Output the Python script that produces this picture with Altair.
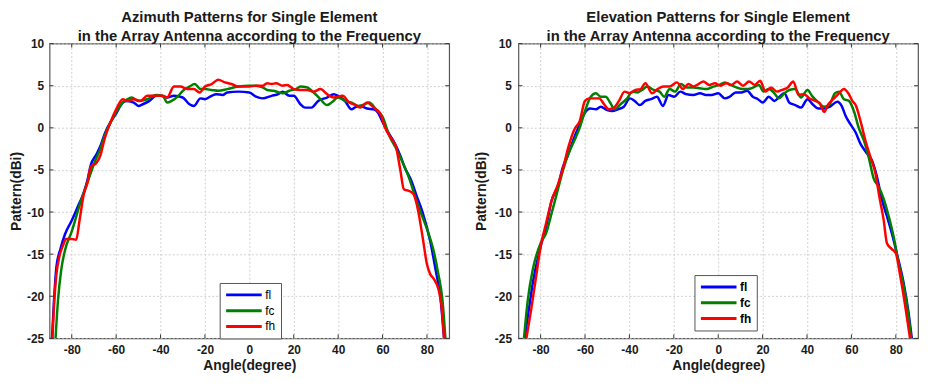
import altair as alt
import pandas as pd

FONT = "Liberation Sans"
SERIES = ["fl", "fc", "fh"]
COLORS = ["#0000ff", "#008000", "#ff0000"]
X_TICKS = [-80, -60, -40, -20, 0, 20, 40, 60, 80]
Y_TICKS = [-25, -20, -15, -10, -5, 0, 5, 10]

# ---------------- Azimuth ----------------
az_fl_angle = [-88.9, -88, -86.9, -85, -83, -80, -77, -75, -73, -71.4, -69, -67, -65, -62, -60, -57, -55, -52, -50, -48,
               -45, -42, -40, -37, -34, -30, -27, -25, -22, -20, -17, -15, -12, -10, -5, 0, 3, 6, 10, 13, 15, 18, 20,
               23, 25, 28, 31, 35, 38, 40, 43, 46, 48, 50, 53, 56, 58, 60, 62, 65, 68, 70, 73, 75.5, 78, 81.5, 84, 86,
               87.7]
az_fl_value = [-25, -20.5, -16.5, -14.3, -12.6, -11.0, -9.2, -8.0, -6.3, -4.4, -3.2, -2.1, -0.6, 0.9, 1.7, 3.0, 3.2,
               3.0, 2.6, 2.8, 3.2, 3.8, 3.8, 3.6, 3.8, 3.6, 2.8, 2.6, 3.5, 3.4, 3.8, 4.0, 3.9, 4.2, 4.3, 4.2, 3.7, 3.5,
               3.8, 4.0, 4.3, 3.8, 3.8, 2.8, 2.4, 2.4, 3.2, 3.6, 4.0, 3.8, 3.2, 2.2, 2.5, 2.6, 2.3, 2.2, 1.8, 0.7, -0.3,
               -1.6, -3.3, -4.7, -6.3, -8.2, -10.0, -13.5, -17.0, -20.0, -25]

az_fc_angle = [-87.3, -86.2, -84.7, -83, -80, -76, -72, -70, -67, -65, -62, -60, -57, -55, -53, -50, -46, -42, -39,
               -37, -35, -32, -30, -27, -24.6, -22, -20, -17, -14, -10, -5, 0, 3, 6, 8, 11, 15, 18, 21, 23, 26, 29, 32,
               35, 37, 40, 43, 46, 49, 52, 54, 57, 60, 63, 66, 69, 72, 75, 78, 80, 83, 85, 87, 88.3]
az_fc_value = [-25, -20.5, -16.8, -14.5, -12.3, -8.8, -5.8, -4.3, -2.4, -0.8, 0.9, 1.9, 3.0, 3.4, 3.6, 3.2, 3.4, 3.9,
               3.8, 3.0, 3.2, 3.8, 4.4, 4.9, 5.2, 4.6, 4.6, 4.5, 4.4, 4.6, 4.9, 5.0, 5.0, 4.8, 4.5, 4.4, 4.1, 4.4, 4.6,
               4.9, 4.8, 4.2, 3.4, 2.7, 3.0, 3.6, 3.2, 3.0, 2.6, 2.8, 3.0, 2.2, 1.3, -0.9, -2.4, -4.1, -6.0, -8.4,
               -10.6, -12.0, -14.6, -17.2, -20.5, -25]

az_fh_angle = [-88.7, -87.7, -87, -85.5, -84, -82.5, -80, -78, -76.5, -74.5, -73, -71.4, -69, -67, -65.5, -62.5, -60,
               -57, -55, -52, -49, -46, -42, -39, -37, -34, -31, -28, -25, -22.4, -20, -17, -14, -11, -8, -5, 0, 3, 6,
               8, 10, 12, 15, 17, 20, 23, 26, 29, 32, 35, 38, 42, 45, 48, 50, 53, 56, 59, 61, 64, 66, 68, 69.6, 72, 74,
               76, 78, 80, 81.5, 83, 85.2, 86.5, 87.7]
az_fh_value = [-25, -19.9, -17.6, -15.2, -14.0, -13.2, -13.2, -13.3, -11.0, -7.8, -6.6, -4.6, -4.2, -3.2, -1.6, 0.7,
               2.2, 3.4, 3.2, 3.4, 3.2, 3.8, 3.8, 3.8, 3.6, 4.9, 4.9, 4.6, 4.6, 4.2, 4.9, 5.2, 5.7, 5.4, 5.2, 4.9, 4.9,
               5.0, 5.0, 5.3, 5.2, 5.3, 5.0, 5.1, 4.6, 4.5, 4.5, 4.3, 4.6, 4.0, 3.6, 3.8, 3.0, 2.7, 2.4, 3.0, 2.4, 1.7,
               0.1, -1.3, -2.2, -5.0, -7.3, -7.5, -7.9, -9.8, -12.9, -16.2, -17.4, -17.9, -19.2, -21.0, -25]

# ---------------- Elevation ----------------
el_fl_angle = [-87.2, -85.7, -83.5, -80, -77.5, -75, -72.3, -70, -67.5, -64.8, -62.4, -60, -57.7, -55.1, -52.9, -50,
               -47.7, -45.2, -42.5, -39.8, -37.7, -35.3, -32.8, -30.3, -27.6, -24.9, -22.4, -19.8, -17.1, -14.5, -11.2,
               -8.2, -5.5, -3, 0, 3, 5.2, 7.9, 10.4, 13, 15.6, 17.9, 20.1, 22.8, 25.3, 27.6, 29.8, 32, 34.7, 37.3, 40.2,
               42.5, 45.2, 47.7, 50.2, 53.7, 55.6, 57.4, 59.6, 61.8, 64.1, 66.6, 69.3, 71.5, 73.8, 76, 78.2, 80.9, 83.5,
               85.7, 87.2]
el_fl_value = [-25, -22.3, -18.4, -14.1, -11.7, -8.6, -7.0, -4.7, -3.1, -1.1, 0.4, 1.8, 2.3, 2.2, 2.5, 2.1, 2.0, 2.2,
               2.5, 3.5, 3.2, 2.7, 3.2, 3.4, 3.7, 2.6, 3.9, 3.7, 4.3, 4.0, 3.9, 4.1, 3.9, 3.9, 4.1, 3.5, 3.7, 4.2, 4.2,
               4.4, 3.7, 3.4, 3.0, 3.7, 3.2, 3.7, 4.1, 3.0, 2.7, 2.4, 3.4, 2.8, 2.3, 2.3, 2.5, 3.1, 2.6, 1.4, 0.4, -0.5,
               -1.9, -2.9, -3.9, -5.8, -8.6, -10.5, -12.5, -15.4, -18.4, -21.9, -25]

el_fc_angle = [-87.5, -85.7, -83.5, -80, -77.5, -75, -72.3, -70, -67.5, -64.8, -62.4, -60, -57.4, -55.1, -52.9, -50.7,
               -48.7, -46.6, -44, -41, -38.7, -36.5, -34.3, -32, -29, -26.4, -24.3, -21.9, -19.4, -16.8, -14.2, -11.2,
               -8.2, -5.2, -2.2, 0.4, 3, 5.5, 8.2, 10.9, 13.4, 15.9, 18.3, 20.4, 22.8, 25.3, 27.3, 29.8, 32, 34.7, 37.3,
               40.2, 42.5, 45.2, 47.7, 50.2, 52.6, 54.4, 56.6, 58.9, 61.1, 63.3, 65.6, 67.8, 70, 72.3, 74.5, 76.8, 79,
               81.2, 83.5, 85.7, 86.9]
el_fc_value = [-25, -20.3, -16.8, -13.7, -12.5, -10.1, -7.4, -5.1, -3.1, -1.5, 0.0, 2.0, 3.7, 4.1, 3.7, 3.7, 3.0, 2.2,
               2.8, 3.5, 4.3, 4.2, 4.5, 4.9, 4.5, 4.3, 3.7, 4.6, 4.3, 5.2, 4.8, 4.8, 4.7, 4.6, 4.9, 5.1, 5.4, 5.1, 4.8,
               4.6, 4.6, 4.8, 5.1, 4.3, 4.6, 4.1, 3.5, 4.1, 4.5, 4.6, 3.6, 4.5, 3.7, 3.0, 2.5, 2.8, 4.1, 4.3, 3.4, 3.2,
               2.0, 0.0, -1.5, -3.5, -6.0, -7.0, -8.4, -10.5, -12.9, -16.0, -18.7, -22.3, -25]

el_fh_angle = [-86.4, -84.2, -82, -79.7, -77.5, -75, -72.3, -70, -67.5, -64.8, -62.4, -60, -58.1, -55.9, -53.6, -51.4,
               -49.2, -46.9, -44.7, -42.2, -39.8, -37.3, -35, -32.8, -29.8, -27.3, -24.6, -21.9, -18.6, -15.9, -13.4,
               -11.2, -8.9, -6.7, -4, -1.5, 1, 3.7, 6, 8.5, 11.2, 13.9, 16.4, 18.9, 21.3, 23.8, 26.4, 28.8, 31.3, 33.8,
               36.2, 38.7, 41, 43.7, 45.8, 47.7, 49.6, 52.2, 54.4, 56.6, 58.6, 60.4, 62.1, 64.1, 66.3, 68.6, 70.8, 72.6,
               74.5, 76, 78.2, 80, 82, 84.2, 86.4]
el_fh_value = [-25, -21.5, -17.6, -13.7, -11.3, -8.6, -6.8, -4.9, -2.3, -0.2, 0.8, 3.2, 3.5, 3.5, 3.5, 2.8, 2.2, 2.4,
               3.2, 4.3, 4.1, 4.5, 4.6, 5.3, 4.1, 4.6, 4.9, 4.9, 5.4, 4.6, 5.2, 4.9, 5.2, 5.5, 5.1, 5.3, 5.0, 5.3, 5.1,
               5.5, 5.0, 5.5, 5.1, 5.6, 4.3, 4.8, 4.3, 4.5, 4.8, 5.5, 3.9, 4.0, 3.5, 3.2, 2.9, 1.9, 2.8, 3.5, 4.1, 4.6,
               4.1, 3.2, 2.6, 0.8, -1.5, -3.5, -5.4, -8.2, -10.9, -13.7, -14.4, -14.9, -17.6, -21.1, -25]


def frame(pairs):
    parts = []
    for name, (a, v) in zip(SERIES, pairs):
        parts.append(pd.DataFrame({"angle": a, "value": v, "series": name}))
    return pd.concat(parts, ignore_index=True)


def panel(title_lines, df, legend_bold, y_label_pad, y_title_pad, legend_xy):
    xscale = alt.Scale(domain=[-90, 90], nice=False, zero=False)
    yscale = alt.Scale(domain=[-25, 10], nice=False, zero=False)
    label_expr = "'' + datum.value"
    xaxis = alt.Axis(values=X_TICKS, labelExpr=label_expr, labelFont=FONT, labelFontSize=12,
                     labelFontWeight="bold", labelColor="#1a1a1a", ticks=False, domain=False,
                     grid=True, gridColor="#cfcfcf", gridDash=[2, 2], labelPadding=6,
                     title="Angle(degree)", titleFont=FONT, titleFontSize=14, titleFontWeight="bold",
                     titleColor="#1a1a1a", titlePadding=3)
    yaxis = alt.Axis(values=Y_TICKS, labelExpr=label_expr, labelFont=FONT, labelFontSize=12,
                     labelFontWeight="bold", labelColor="#1a1a1a", ticks=False, domain=False,
                     grid=True, gridColor="#cfcfcf", gridDash=[2, 2], labelPadding=y_label_pad,
                     title="Pattern(dBi)", titleFont=FONT, titleFontSize=14, titleFontWeight="bold",
                     titleColor="#1a1a1a", titlePadding=y_title_pad)
    legend = alt.Legend(title=None, orient="none", legendX=legend_xy[0], legendY=legend_xy[1],
                        symbolType="stroke", symbolSize=1296, symbolStrokeWidth=3, clipHeight=14,
                        rowPadding=2,
                        labelFont=FONT, labelFontSize=12,
                        labelFontWeight="bold" if legend_bold else "normal", labelColor="black",
                        fillColor="white", strokeColor="#555555", padding=5, labelOffset=2)
    lines = alt.Chart(df).mark_line(strokeWidth=2.5, interpolate="monotone", clip=True).encode(
        x=alt.X("angle:Q", scale=xscale, axis=xaxis),
        y=alt.Y("value:Q", scale=yscale, axis=yaxis),
        color=alt.Color("series:N", scale=alt.Scale(domain=SERIES, range=COLORS), legend=legend),
    )
    xt = pd.DataFrame({"t": X_TICKS})
    yt = pd.DataFrame({"t": Y_TICKS})
    tick_style = dict(color="#333333", strokeWidth=1)
    top = alt.Chart(xt).mark_rule(y2Offset=4, **tick_style).encode(
        x=alt.X("t:Q", scale=xscale, axis=xaxis), y=alt.datum(10, scale=yscale, axis=yaxis), y2=alt.datum(10))
    bottom = alt.Chart(xt).mark_rule(y2Offset=-4, **tick_style).encode(
        x=alt.X("t:Q", scale=xscale, axis=xaxis), y=alt.datum(-25, scale=yscale, axis=yaxis), y2=alt.datum(-25))
    left = alt.Chart(yt).mark_rule(x2Offset=4, **tick_style).encode(
        y=alt.Y("t:Q", scale=yscale, axis=yaxis), x=alt.datum(-90, scale=xscale, axis=xaxis), x2=alt.datum(-90))
    right = alt.Chart(yt).mark_rule(x2Offset=-4, **tick_style).encode(
        y=alt.Y("t:Q", scale=yscale, axis=yaxis), x=alt.datum(90, scale=xscale, axis=xaxis), x2=alt.datum(90))
    return alt.layer(lines, top, bottom, left, right).properties(
        width=404, height=298,
        title=alt.TitleParams(text=title_lines, font=FONT, fontSize=15, fontWeight="bold",
                              color="#1a1a1a", anchor="middle", lineHeight=19, offset=-6),
    )


az_df = frame([(az_fl_angle, az_fl_value), (az_fc_angle, az_fc_value), (az_fh_angle, az_fh_value)])
el_df = frame([(el_fl_angle, el_fl_value), (el_fc_angle, el_fc_value), (el_fh_angle, el_fh_value)])

left_panel = panel(["Azimuth Patterns for Single Element", "in the Array Antenna according to the Frequency"],
                   az_df, False, 6, 3, (172, 242))
right_panel = panel(["Elevation Patterns for Single Element", "in the Array Antenna according to the Frequency"],
                    el_df, True, 7, 6, (178, 234))

chart = alt.hconcat(left_panel, right_panel, spacing=70, bounds="flush").resolve_legend(
    color="independent").configure_view(stroke="#555555", strokeWidth=1.2).properties(
    padding={"left": 1, "top": -1, "right": 0, "bottom": 0}, background="white")

chart.save("out.html", embed_options={"renderer": "svg", "actions": False})
